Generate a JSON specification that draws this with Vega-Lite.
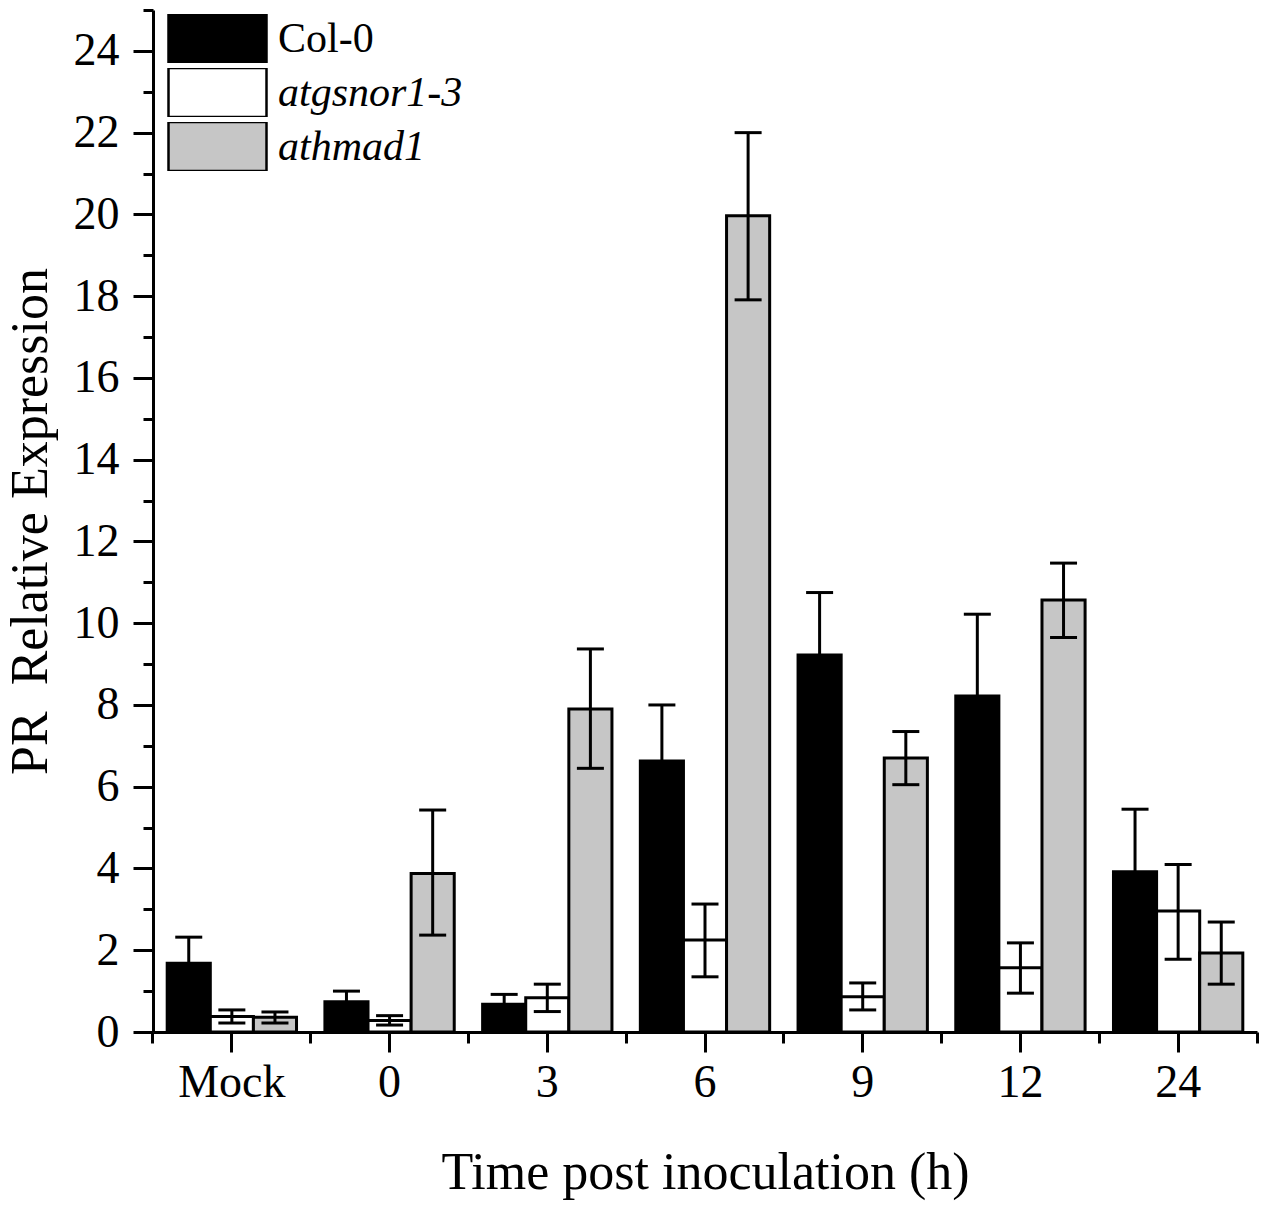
{
  "$schema": "https://vega.github.io/schema/vega-lite/v6.json",
  "width": 1104,
  "height": 1022,
  "autosize": {"type": "none"},
  "padding": {"left": 153, "top": 10, "right": 10, "bottom": 177},
  "background": "white",
  "data": {
    "values": [
      {"time": "Mock", "line": "Col-0", "value": 1.68, "low": 1.04, "high": 2.32},
      {"time": "Mock", "line": "atgsnor1-3", "value": 0.38, "low": 0.22, "high": 0.54},
      {"time": "Mock", "line": "athmad1", "value": 0.36, "low": 0.22, "high": 0.49},
      {"time": "0", "line": "Col-0", "value": 0.74, "low": 0.48, "high": 1.0},
      {"time": "0", "line": "atgsnor1-3", "value": 0.28, "low": 0.17, "high": 0.4},
      {"time": "0", "line": "athmad1", "value": 3.88, "low": 2.37, "high": 5.43},
      {"time": "3", "line": "Col-0", "value": 0.68, "low": 0.44, "high": 0.92},
      {"time": "3", "line": "atgsnor1-3", "value": 0.84, "low": 0.5, "high": 1.17},
      {"time": "3", "line": "athmad1", "value": 7.9, "low": 6.45, "high": 9.37},
      {"time": "6", "line": "Col-0", "value": 6.63, "low": 5.26, "high": 8.0},
      {"time": "6", "line": "atgsnor1-3", "value": 2.25, "low": 1.35, "high": 3.13},
      {"time": "6", "line": "athmad1", "value": 19.97, "low": 17.91, "high": 22.0},
      {"time": "9", "line": "Col-0", "value": 9.22, "low": 7.69, "high": 10.75},
      {"time": "9", "line": "atgsnor1-3", "value": 0.86, "low": 0.54, "high": 1.2},
      {"time": "9", "line": "athmad1", "value": 6.7, "low": 6.05, "high": 7.35},
      {"time": "12", "line": "Col-0", "value": 8.22, "low": 6.22, "high": 10.22},
      {"time": "12", "line": "atgsnor1-3", "value": 1.57, "low": 0.95, "high": 2.18},
      {"time": "12", "line": "athmad1", "value": 10.57, "low": 9.65, "high": 11.47},
      {"time": "24", "line": "Col-0", "value": 3.92, "low": 2.39, "high": 5.45},
      {"time": "24", "line": "atgsnor1-3", "value": 2.96, "low": 1.78, "high": 4.1},
      {"time": "24", "line": "athmad1", "value": 1.93, "low": 1.17, "high": 2.69}
    ]
  },
  "encoding": {
    "xOffset": {
      "field": "line",
      "type": "nominal",
      "sort": ["Col-0", "atgsnor1-3", "athmad1"],
      "scale": {"paddingInner": 0, "paddingOuter": 0}
    }
  },
  "layer": [
    {
      "mark": {"type": "bar", "stroke": "black", "strokeWidth": 3, "opacity": 1},
      "encoding": {
        "x": {
          "field": "time",
          "type": "nominal",
          "sort": ["Mock", "0", "3", "6", "9", "12", "24"],
          "scale": {"paddingInner": 0.18, "paddingOuter": 0.09},
          "axis": {
            "title": "Time post inoculation (h)",
            "orient": "bottom",
            "labelAngle": 0,
            "tickSize": 20,
            "labelPadding": 8,
            "titlePadding": 42
          }
        },
        "y": {
          "field": "value",
          "type": "quantitative",
          "scale": {"domain": [0, 25], "nice": false},
          "axis": {
            "title": "PR\u00a0 Relative Expression",
            "values": [0, 1, 2, 3, 4, 5, 6, 7, 8, 9, 10, 11, 12, 13, 14, 15, 16, 17, 18, 19, 20, 21, 22, 23, 24, 25],
            "labelExpr": "datum.value % 2 === 0 && datum.value < 25 ? datum.label : ''",
            "tickSize": {"condition": {"test": "datum.value % 2 === 0", "value": 20}, "value": 10},
            "labelPadding": 14,
            "titlePadding": 16,
            "grid": false
          }
        },
        "fill": {
          "field": "line",
          "type": "nominal",
          "sort": ["Col-0", "atgsnor1-3", "athmad1"],
          "scale": {"domain": ["Col-0", "atgsnor1-3", "athmad1"], "range": ["#000000", "#ffffff", "#c6c6c6"]},
          "legend": {
            "title": null,
            "orient": "none",
            "legendX": 14,
            "legendY": 4,
            "padding": 0,
            "symbolType": "M-1,-0.5H1V0.5H-1Z",
            "symbolSize": 9604,
            "symbolStrokeColor": "black",
            "symbolStrokeWidth": 2.5,
            "symbolOpacity": 1,
            "clipHeight": 49,
            "rowPadding": 5,
            "labelOffset": 10,
            "labelFont": "Liberation Serif",
            "labelFontSize": 42,
            "labelColor": "black",
            "labelLimit": 400,
            "encode": {
              "labels": {
                "update": {
                  "fontStyle": {"signal": "datum.label === 'Col-0' ? 'normal' : 'italic'"}
                }
              }
            }
          }
        }
      }
    },
    {
      "mark": {"type": "rule", "color": "black", "strokeWidth": 3},
      "encoding": {
        "x": {"field": "time", "type": "nominal", "sort": ["Mock", "0", "3", "6", "9", "12", "24"], "axis": null},
        "y": {"field": "low", "type": "quantitative"},
        "y2": {"field": "high"}
      }
    },
    {
      "mark": {"type": "tick", "color": "black", "size": 27, "thickness": 3, "opacity": 1},
      "encoding": {
        "x": {
          "field": "time",
          "type": "nominal",
          "sort": ["Mock", "0", "3", "6", "9", "12", "24"],
          "axis": {
            "orient": "bottom",
            "title": null,
            "labels": false,
            "domain": false,
            "bandPosition": -0.1098,
            "tickSize": 11
          }
        },
        "y": {"field": "high", "type": "quantitative"}
      }
    },
    {
      "mark": {"type": "tick", "color": "black", "size": 27, "thickness": 3, "opacity": 1},
      "encoding": {
        "x": {
          "field": "time",
          "type": "nominal",
          "sort": ["Mock", "0", "3", "6", "9", "12", "24"],
          "axis": {
            "orient": "bottom",
            "title": null,
            "labels": false,
            "domain": false,
            "values": ["24"],
            "bandPosition": 1.1098,
            "tickSize": 11
          }
        },
        "y": {"field": "low", "type": "quantitative"}
      }
    }
  ],
  "resolve": {"axis": {"x": "independent"}},
  "config": {
    "view": {"stroke": null},
    "font": "Liberation Serif",
    "axis": {
      "domainColor": "black",
      "domainWidth": 3,
      "tickColor": "black",
      "tickWidth": 3,
      "labelFont": "Liberation Serif",
      "labelFontSize": 46,
      "labelColor": "black",
      "titleFont": "Liberation Serif",
      "titleFontSize": 52,
      "titleFontWeight": "normal",
      "titleColor": "black",
      "grid": false
    }
  }
}
